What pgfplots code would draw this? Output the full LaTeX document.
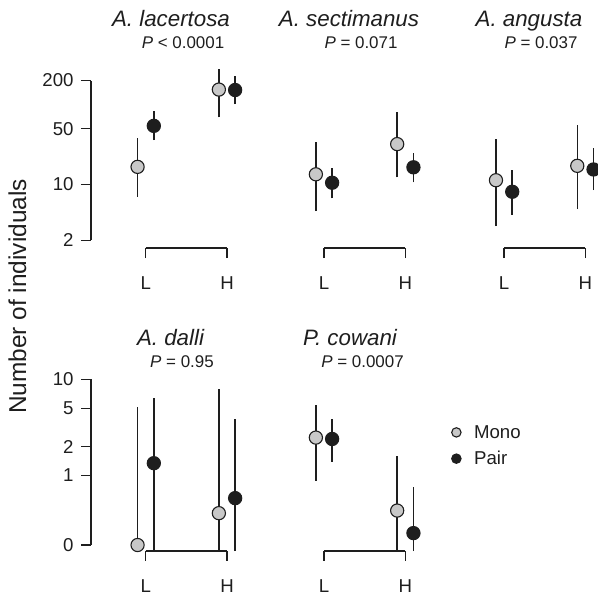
\documentclass[border=0pt]{standalone}
\usepackage{fontspec}
\setmainfont{Liberation Sans}
\usepackage{pgfplots}
\pgfplotsset{compat=1.18}

\definecolor{monogray}{RGB}{200,200,200}
\definecolor{ink}{RGB}{30,30,30}

\newcommand{\tickfont}{\fontsize{18.7}{21}\selectfont}
\newcommand{\titlefont}{\fontsize{22.4}{26}\selectfont\itshape}
\newcommand{\pfont}{\fontsize{17}{20}\selectfont}

\pgfplotsset{
  rpanel/.style={
    scale only axis, width=81.3bp, clip=false,
    xmin=1, xmax=2, xtick={1,2}, xticklabels={L,H},
    yminorticks=false,
    axis x line*=bottom, axis y line*=left,
    axis line style={line width=1.3bp, ink},
    tick align=outside, major tick length=10bp,
    tick style={line width=1.3bp, ink},
    tick label style={font=\tickfont, text=ink},
    /pgf/number format/assume math mode=true,
    xticklabel style={yshift=-15bp},
    yticklabel style={xshift=-4bp},
    axis y line shift=54.7bp,
  },
  toprow/.style={rpanel, height=159.8bp, ymin=2, ymax=200,
    axis x line shift=7.7bp,
    ytick={2,10,50,200}, yticklabels={2,10,50,200}},
  botrow/.style={rpanel, height=165.7bp, ymin=0.19, ymax=10,
    axis x line shift=6bp,
    ytick={0.19,1,2,5,10}, yticklabels={0,1,2,5,10}},
  noy/.style={axis y line=none},
  mono/.style={only marks, mark=*, mark size=6.6bp,
    mark options={fill=monogray, draw=ink, line width=1.1bp}},
  pair/.style={only marks, mark=*, mark size=6.6bp,
    mark options={fill=ink, draw=ink, line width=1.1bp}},
  ebar/.style={ink, line width=1.5bp, no marks, forget plot},
}

\begin{document}
\begin{tikzpicture}
\useasboundingbox (0bp,-596bp) rectangle (598bp,0bp);

% ---- top row ----
\begin{axis}[ymode=log, toprow, at={(145.7bp,-240.3bp)}, anchor=south west]
  \addplot[mono] coordinates {(0.9,16.6) (1.9,154)};
  \addplot[pair] coordinates {(1.1,54.1) (2.1,152)};
  \addplot[ebar] coordinates {(0.9,7.0) (0.9,38.3)};
  \addplot[ebar] coordinates {(1.1,35.9) (1.1,82.6)};
  \addplot[ebar] coordinates {(1.9,68.9) (1.9,282)};
  \addplot[ebar] coordinates {(2.1,101) (2.1,226)};
\end{axis}

\begin{axis}[ymode=log, toprow, noy, at={(324bp,-240.3bp)}, anchor=south west]
  \addplot[mono] coordinates {(0.9,13.4) (1.9,32.0)};
  \addplot[pair] coordinates {(1.1,10.5) (2.1,16.4)};
  \addplot[ebar] coordinates {(0.9,4.65) (0.9,34.2)};
  \addplot[ebar] coordinates {(1.1,6.7) (1.1,15.9)};
  \addplot[ebar] coordinates {(1.9,12.3) (1.9,81.0)};
  \addplot[ebar] coordinates {(2.1,10.6) (2.1,24.5)};
\end{axis}

\begin{axis}[ymode=log, toprow, noy, at={(504.1bp,-240.3bp)}, anchor=south west]
  \addplot[mono] coordinates {(0.9,11.3) (1.9,17.1)};
  \addplot[pair] coordinates {(1.1,8.1) (2.1,15.4)};
  \addplot[ebar] coordinates {(0.9,3.0) (0.9,36.6)};
  \addplot[ebar] coordinates {(1.1,4.2) (1.1,15.1)};
  \addplot[ebar] coordinates {(1.9,4.9) (1.9,55.2)};
  \addplot[ebar] coordinates {(2.1,8.5) (2.1,28.2)};
\end{axis}

% ---- bottom row (0 is drawn at 0.19 on the log scale) ----
\begin{axis}[ymode=log, botrow, at={(145.7bp,-545bp)}, anchor=south west]
  \addplot[mono] coordinates {(0.9,0.19) (1.9,0.407)};
  \addplot[pair] coordinates {(1.1,1.345) (2.1,0.583)};
  \addplot[ebar] coordinates {(0.9,0.1645) (0.9,5.2)};
  \addplot[ebar] coordinates {(1.1,0.1645) (1.1,6.35)};
  \addplot[ebar] coordinates {(1.9,0.1645) (1.9,7.93)};
  \addplot[ebar] coordinates {(2.1,0.1645) (2.1,3.87)};
\end{axis}

\begin{axis}[ymode=log, botrow, noy, at={(324bp,-545bp)}, anchor=south west,
  legend style={at={(1.568,0.724)}, anchor=north west, draw=none, fill=none,
    inner sep=0pt, nodes={inner sep=0pt}, row sep=11.6bp, column sep=13bp,
    font=\tickfont, text=ink},
  legend cell align=left,
  legend image code/.code={\draw[#1, mark size=4.7bp] plot coordinates {(0bp,0bp)};}]
  \addplot[mono] coordinates {(0.9,2.48) (1.9,0.433)};
  \addlegendentry{Mono}
  \addplot[pair] coordinates {(1.1,2.40) (2.1,0.2526)};
  \addlegendentry{Pair}
  \addplot[ebar] coordinates {(0.9,0.887) (0.9,5.41)};
  \addplot[ebar] coordinates {(1.1,1.397) (1.1,3.85)};
  \addplot[ebar] coordinates {(1.9,0.1645) (1.9,1.613)};
  \addplot[ebar] coordinates {(2.1,0.1645) (2.1,0.769)};
\end{axis}

% ---- titles ----
\node[anchor=base, font=\titlefont, text=ink] at (171bp,-26bp) {A. lacertosa};
\node[anchor=base, font=\pfont, text=ink] at (183bp,-48.5bp) {\textit{P} < 0.0001};
\node[anchor=base, font=\titlefont, text=ink] at (349bp,-26bp) {A. sectimanus};
\node[anchor=base, font=\pfont, text=ink] at (361bp,-48.5bp) {\textit{P} = 0.071};
\node[anchor=base, font=\titlefont, text=ink] at (529bp,-26bp) {A. angusta};
\node[anchor=base, font=\pfont, text=ink] at (541bp,-48.5bp) {\textit{P} = 0.037};
\node[anchor=base, font=\titlefont, text=ink] at (170.5bp,-345bp) {A. dalli};
\node[anchor=base, font=\pfont, text=ink] at (182bp,-367bp) {\textit{P} = 0.95};
\node[anchor=base, font=\titlefont, text=ink] at (350bp,-345bp) {P. cowani};
\node[anchor=base, font=\pfont, text=ink] at (362.5bp,-367bp) {\textit{P} = 0.0007};

\node[rotate=90, font=\fontsize{24.5}{28}\selectfont, text=ink] at (17.5bp,-296.5bp) {Number of individuals};
\end{tikzpicture}
\end{document}
